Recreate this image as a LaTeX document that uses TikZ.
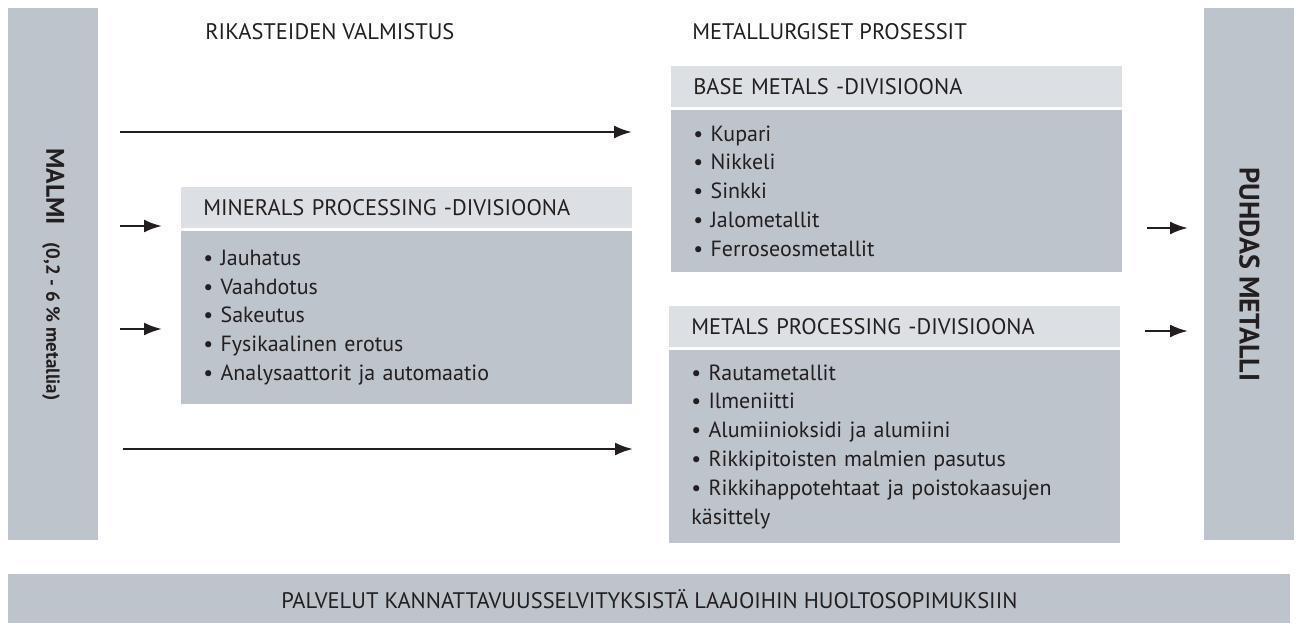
\documentclass[tikz,border=0pt]{standalone}
\usepackage{fontspec}
\setmainfont{PT Sans}
\usetikzlibrary{positioning,arrows.meta}
\definecolor{panel}{RGB}{190,196,204}
\definecolor{headfill}{RGB}{220,223,227}
\definecolor{ink}{RGB}{35,31,32}
\tikzset{
  bar/.style = {fill=panel,inner sep=0pt,anchor=north west},
  divhead/.style = {fill=headfill,anchor=north west,inner xsep=0.44cm,inner ysep=0pt,
    text width=8.14cm,align=left,minimum height=0.82cm,text=ink,font=\fontsize{12.8}{15}\selectfont},
  divbody/.style = {fill=panel,inner xsep=0.44cm,inner ysep=0pt,text width=8.14cm,align=left,
    text=ink,font=\fontsize{12.5}{16.4}\selectfont},
  title/.style = {anchor=west,inner sep=0pt,text=ink,font=\fontsize{12.8}{15}\selectfont},
  arr/.style = {-{Latex[length=0.36cm,width=0.26cm]},line width=1.4pt,ink}
}
\newcommand{\itm}{\textbullet\ }

\begin{document}
\begin{tikzpicture}
\useasboundingbox (0,0) rectangle (25.98,-12.5);

% side bars
\node[bar,minimum width=1.8cm,minimum height=10.64cm] (malmi) at (0.16,-0.16) {};
\node[bar,minimum width=1.8cm,minimum height=10.64cm] (puhdas) at (24.08,-0.16) {};
\node[bar,minimum width=25.64cm,minimum height=0.98cm] (palvelut) at (0.16,-11.48) {};

\node[rotate=-90,text=ink,inner sep=0pt] (malmitxt) at (malmi.center)
  {\fontsize{14.5}{16}\selectfont\bfseries MALMI\hspace{10pt}{\fontsize{10.8}{12}\selectfont (0,2 - 6 \% metallia)}};
\node[rotate=-90,text=ink,inner sep=0pt] (puhdastxt) at (puhdas.center)
  {\fontsize{16}{18}\selectfont\bfseries PUHDAS METALLI};
\node[title,anchor=center] (palveluttxt) at (palvelut.center)
  {PALVELUT KANNATTAVUUSSELVITYKSISTÄ LAAJOIHIN HUOLTOSOPIMUKSIIN};

% column titles
\node[title] (rikasteet) at (4.1,-0.64) {RIKASTEIDEN VALMISTUS};
\node[title] (metallurgia) at (13.84,-0.64) {METALLURGISET PROSESSIT};

% divisions
\node[divhead] (basehead) at (13.42,-1.32) {BASE METALS -DIVISIOONA};
\node[divbody,minimum height=3.24cm,below right=0.04cm and 0cm of basehead.south west] (basebody)
  {\itm Kupari\\ \itm Nikkeli\\ \itm Sinkki\\ \itm Jalometallit\\ \itm Ferroseosmetallit};

\node[divhead] (minhead) at (3.62,-3.74) {MINERALS PROCESSING -DIVISIOONA};
\node[divbody,minimum height=3.46cm,below right=0.04cm and 0cm of minhead.south west] (minbody)
  {\itm Jauhatus\\ \itm Vaahdotus\\ \itm Sakeutus\\ \itm Fysikaalinen erotus\\ \itm Analysaattorit ja automaatio};

\node[divhead] (methead) at (13.38,-6.12) {METALS PROCESSING -DIVISIOONA};
\node[divbody,minimum height=3.86cm,below right=0.04cm and 0cm of methead.south west] (metbody)
  {\itm Rautametallit\\ \itm Ilmeniitti\\ \itm Alumiinioksidi ja alumiini\\ \itm Rikkipitoisten malmien pasutus\\
   \itm Rikkihappotehtaat ja poistokaasujen\\ käsittely};

% flow arrows
\coordinate (ya) at (0,-2.64);
\coordinate (yb) at (0,-4.52);
\coordinate (yc) at (0,-6.58);
\coordinate (yd) at (0,-8.98);
\coordinate (ye) at (0,-4.56);
\coordinate (yf) at (0,-6.62);
\draw[arr,shorten <=0.42cm,shorten >=0.78cm] (malmi.east |- ya) -- (basebody.west |- ya);
\draw[arr,shorten <=0.42cm,shorten >=0.38cm] (malmi.east |- yb) -- (minbody.west |- yb);
\draw[arr,shorten <=0.42cm,shorten >=0.38cm] (malmi.east |- yc) -- (minbody.west |- yc);
\draw[arr,shorten <=0.48cm,shorten >=0.72cm] (malmi.east |- yd) -- (metbody.west |- yd);
\draw[arr,shorten <=0.48cm,shorten >=0.32cm] (basebody.east |- ye) -- (puhdas.west |- ye);
\draw[arr,shorten <=0.48cm,shorten >=0.32cm] (metbody.east |- yf) -- (puhdas.west |- yf);
\end{tikzpicture}
\end{document}
